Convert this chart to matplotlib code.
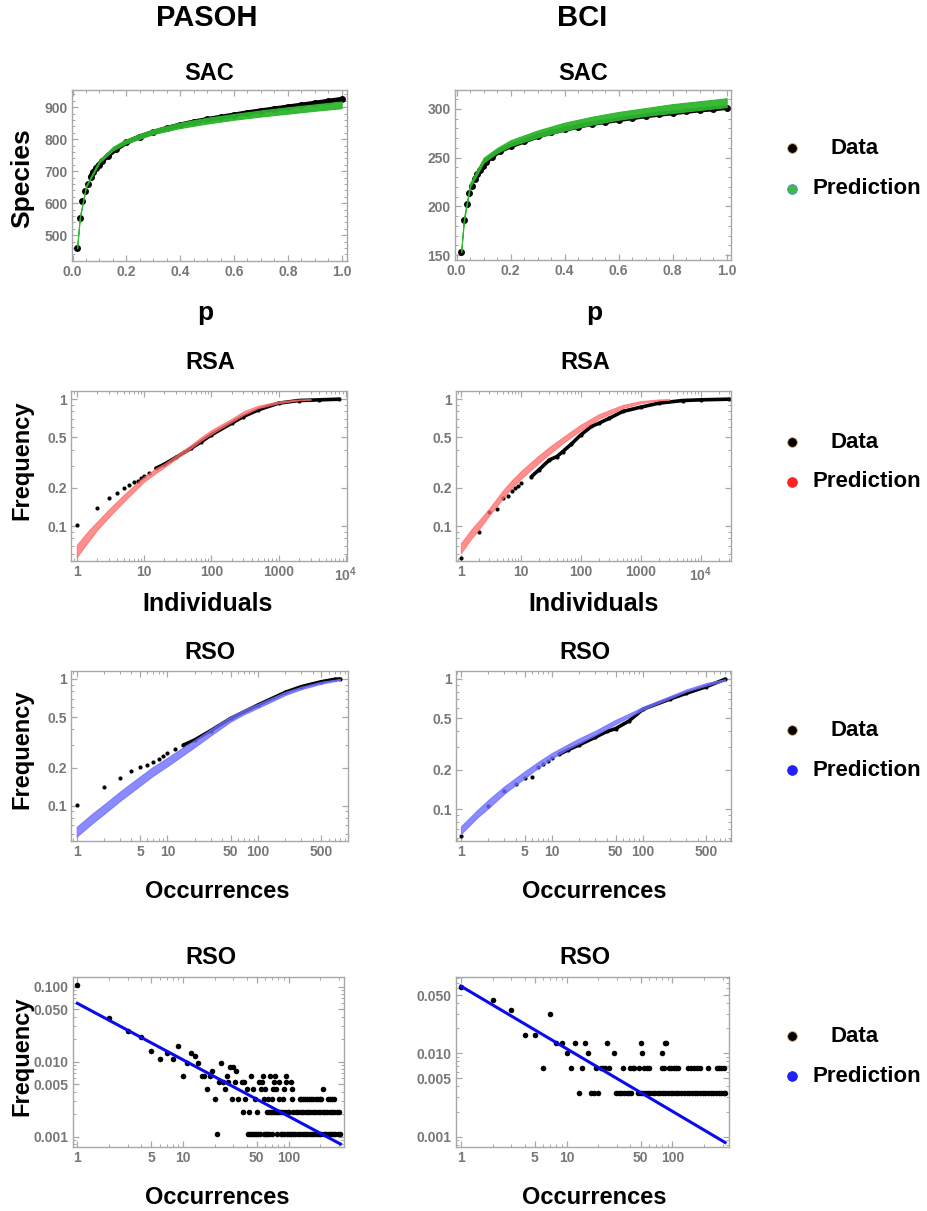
import numpy as np
import matplotlib
matplotlib.use("Agg")
import matplotlib.pyplot as plt
from matplotlib.ticker import (FixedLocator, FixedFormatter, MultipleLocator,
                               FormatStrFormatter, LogLocator, NullFormatter)

# ----------------------------- data ---------------------------------------- #
# species accumulation curves (fraction of plot area sampled -> species)
sac_p = [0.017, 0.027, 0.037, 0.047, 0.057, 0.067, 0.077, 0.087, 0.097, 0.11,
         0.13, 0.16, 0.20, 0.25, 0.30, 0.35, 0.40, 0.45, 0.50, 0.55, 0.60,
         0.65, 0.70, 0.75, 0.80, 0.85, 0.90, 0.95, 1.00]
pasoh_sac = [460, 555, 607, 637, 661, 683, 697, 710, 720, 731, 748, 768, 790,
             808, 822, 834, 845, 854, 862, 869, 876, 883, 889, 895, 901, 907,
             913, 919, 925]
bci_sac = [153, 186, 202, 214, 221, 228, 233, 237, 241, 246, 251, 257, 262,
           267, 272, 276, 279, 282, 285, 287, 289, 291, 293, 294.5, 296, 297.5,
           299, 300, 301.5]

sac_band_p = [0.017, 0.027, 0.05, 0.1, 0.15, 0.2, 0.3, 0.4, 0.5, 0.6, 0.7,
              0.8, 0.9, 1.0]
pasoh_sac_hi = [462, 557, 655, 735, 776, 800, 831, 852, 867, 879, 890, 900,
                909, 918]
pasoh_sac_lo = [459, 553, 650, 727, 765, 787, 816, 835, 849, 861, 871, 880,
                889, 897]
bci_sac_hi = [155, 188, 224, 250, 260, 268, 278, 286, 292, 297, 301, 305,
              308, 311]
bci_sac_lo = [153, 185, 220, 245, 255, 262, 271, 278, 284, 289, 293, 296,
              299, 302]

# cumulative relative species abundance
rsa_pasoh_n = [1, 2, 3, 4, 5, 6, 7, 8, 9, 10, 12, 15, 20, 30, 50, 70, 100,
               200, 300, 500, 1000, 2000, 4000, 8000]
rsa_pasoh_f = [0.102, 0.139, 0.165, 0.183, 0.198, 0.211, 0.221, 0.227, 0.238,
               0.248, 0.26, 0.285, 0.307, 0.348, 0.41, 0.46, 0.523, 0.646,
               0.73, 0.824, 0.93, 0.976, 0.988, 1.0]
rsa_bci_n = [1, 2, 3, 4, 5, 6, 7, 8, 9, 10, 15, 20, 30, 40, 50, 70, 100, 150,
             200, 300, 500, 1000, 2000, 5000, 10000, 30000]
rsa_bci_f = [0.0556, 0.089, 0.128, 0.135, 0.166, 0.172, 0.189, 0.198, 0.207,
             0.217, 0.245, 0.277, 0.332, 0.353, 0.386, 0.444, 0.523, 0.609,
             0.646, 0.708, 0.8, 0.865, 0.93, 0.976, 0.988, 1.0]

rsa_pasoh_band_n = [1, 1.5, 2, 3, 5, 7, 10, 15, 20, 30, 50, 70, 100, 200, 300,
                    500, 1000, 2000, 3000]
rsa_pasoh_hi = [0.071, 0.092, 0.108, 0.135, 0.176, 0.207, 0.245, 0.285, 0.31,
                0.36, 0.436, 0.5, 0.57, 0.7, 0.8, 0.89, 0.96, 0.995, 1.0]
rsa_pasoh_lo = [0.057, 0.076, 0.093, 0.118, 0.156, 0.186, 0.224, 0.262, 0.29,
                0.34, 0.41, 0.47, 0.53, 0.66, 0.75, 0.85, 0.93, 0.98, 0.99]
rsa_bci_band_n = [1, 1.5, 2, 3, 5, 7, 10, 15, 20, 30, 50, 100, 200, 500, 1000,
                  2000, 3000]
rsa_bci_hi = [0.073, 0.094, 0.11, 0.138, 0.19, 0.228, 0.27, 0.32, 0.36, 0.42,
              0.5, 0.63, 0.76, 0.9, 0.965, 0.995, 1.0]
rsa_bci_lo = [0.061, 0.080, 0.094, 0.122, 0.165, 0.2, 0.235, 0.28, 0.315,
              0.37, 0.45, 0.57, 0.70, 0.85, 0.93, 0.98, 0.99]

# cumulative relative species occupancy
rso_pasoh_n = [1, 2, 3, 4, 5, 6, 7, 8, 9, 10, 12, 15, 20, 30, 50, 100, 200,
               300, 500, 700, 800]
rso_pasoh_f = [0.102, 0.141, 0.166, 0.188, 0.201, 0.211, 0.22, 0.232, 0.246,
               0.259, 0.279, 0.301, 0.33, 0.391, 0.489, 0.624, 0.785, 0.87,
               0.952, 0.994, 1.0]
rso_bci_n = [1, 2, 3, 4, 5, 6, 7, 8, 9, 10, 12, 15, 20, 30, 40, 50, 70, 100,
             200, 300, 500, 800]
rso_bci_f = [0.0624, 0.106, 0.139, 0.156, 0.173, 0.178, 0.21, 0.223, 0.236,
             0.245, 0.264, 0.285, 0.312, 0.357, 0.395, 0.415, 0.475, 0.585,
             0.702, 0.776, 0.873, 0.994]

rso_band_n = [1, 1.5, 2, 3, 5, 7, 10, 15, 20, 30, 50, 70, 100, 200, 300, 500,
              800]
rso_pasoh_hi = [0.068, 0.087, 0.102, 0.129, 0.170, 0.203, 0.239, 0.289, 0.33,
                0.402, 0.508, 0.573, 0.638, 0.792, 0.869, 0.952, 1.0]
rso_pasoh_lo = [0.057, 0.073, 0.086, 0.109, 0.144, 0.173, 0.205, 0.251, 0.29,
                0.358, 0.462, 0.527, 0.592, 0.748, 0.831, 0.918, 0.98]
rso_bci_hi = [0.074, 0.098, 0.118, 0.15, 0.195, 0.23, 0.27, 0.315, 0.35,
              0.40, 0.485, 0.54, 0.61, 0.74, 0.83, 0.93, 0.995]
rso_bci_lo = [0.0646, 0.086, 0.102, 0.132, 0.173, 0.207, 0.246, 0.29, 0.32,
              0.37, 0.45, 0.51, 0.58, 0.71, 0.80, 0.89, 0.97]

# species per occurrence value (non-cumulative RSO)
pasoh_species = 930
pasoh_head_occ = list(range(1, 21))
pasoh_head_cnt = [98, 36, 24, 20, 13, 10, 12, 10, 15, 6, 9, 12, 11, 9, 6, 6,
                  4, 6, 7, 3]
pasoh_occ_1 = [21, 41, 43, 45, 47, 49, 51, 54, 58, 61, 63, 65, 69, 77, 84, 87,
               91, 96, 100, 105, 110, 116, 122, 129, 136, 143, 151, 159, 167,
               176, 185, 195, 205, 216, 227, 239, 251, 264, 278, 292, 306]
pasoh_occ_2 = [37, 42, 50, 62, 66, 68, 72, 75, 78, 80, 83, 86, 92, 98, 102,
               111, 117, 123, 130, 137, 146, 153, 161, 170, 179, 190, 200, 211,
               222, 233, 245, 259, 272, 286, 300]
pasoh_occ_3 = [29, 33, 39, 48, 59, 64, 70, 82, 89, 107, 127, 132, 138, 144,
               150, 157, 164, 172, 180, 188, 197, 204, 237, 247, 258, 270]
pasoh_occ_4 = [25, 40, 46, 55, 60, 71, 76, 90, 108, 212]
pasoh_occ_5 = [22, 24, 27, 31, 36, 38, 52, 56, 73, 81, 95, 106]
pasoh_occ_6 = [26, 44, 57, 67, 74, 94]
pasoh_occ_7 = [32]
pasoh_occ_8 = [28, 30]
pasoh_occ_9 = [23]

bci_species = 301
bci_head_occ = list(range(1, 18))
bci_head_cnt = [19, 13, 10, 5, 5, 2, 9, 4, 4, 3, 2, 4, 1, 2, 4, 3, 1]
bci_occ_1 = [18, 20, 29, 31, 33, 35, 37, 39, 41, 47, 50, 53, 56, 59, 62, 65,
             69, 73, 77, 81, 86, 91, 96, 102, 108, 114, 121, 128, 136, 144,
             153, 162, 172, 182, 193, 205, 217, 230, 244, 258, 273, 289, 306,
             315]
bci_occ_2 = [19, 21, 22, 23, 25, 34, 40, 42, 43, 48, 54, 57, 60, 80, 83, 92,
             97, 103, 109, 113, 141, 150, 160, 170, 183, 218, 262, 275, 290,
             305]
bci_occ_3 = [28, 52, 79]
bci_occ_4 = [24, 51, 85, 87]

# fitted power laws (end points)
pasoh_fit_x = [1, 310]
pasoh_fit_y = [0.060, 0.00080]
bci_fit_x = [1, 315]
bci_fit_y = [0.064, 0.00085]

# ----------------------------- style --------------------------------------- #
plt.rcParams['font.family'] = ['Liberation Sans', 'DejaVu Sans']
plt.rcParams['font.weight'] = 'bold'
plt.rcParams['mathtext.default'] = 'regular'

W, H = 927, 1211
TICK_GRAY = '#777777'
FRAME_GRAY = '#a8a8a8'
GREEN = '#2db52d'
RED = '#ff6a6a'
BLUE = '#6e6eff'

fig = plt.figure(figsize=(W / 100, H / 100), dpi=100)


def px_axes(left, top, right, bottom):
    return fig.add_axes([left / W, 1 - bottom / H, (right - left) / W,
                         (bottom - top) / H])


def px_text(x, y, s, size, ha='center', rotation=0):
    fig.text(x / W, 1 - y / H, s, ha=ha, va='center', fontsize=size,
             fontweight='bold', rotation=rotation)


def frame(ax):
    for sp in ax.spines.values():
        sp.set_color(FRAME_GRAY)
        sp.set_linewidth(1.0)
    ax.tick_params(which='both', direction='in', top=True, right=True,
                   color=FRAME_GRAY, labelcolor=TICK_GRAY, labelsize=10,
                   pad=3)
    ax.tick_params(which='major', length=4, width=0.9)
    ax.tick_params(which='minor', length=2, width=0.7)


def log_ticks(ax, axis, ticks, labels):
    a = ax.xaxis if axis == 'x' else ax.yaxis
    a.set_major_locator(FixedLocator(ticks))
    a.set_major_formatter(FixedFormatter(labels))
    a.set_minor_locator(LogLocator(base=10, subs=np.arange(2, 10)))
    a.set_minor_formatter(NullFormatter())


def data_curve(ax, x, y, dense_from, ms, lw):
    x = np.asarray(x, float)
    y = np.asarray(y, float)
    ax.plot(x, y, 'o', color='k', ms=ms, mec='none', zorder=2)
    m = x >= dense_from
    ax.plot(x[m], y[m], '-', color='k', lw=lw, solid_capstyle='round',
            zorder=2)


def band(ax, x, lo, hi, color, alpha):
    ax.fill_between(x, lo, hi, color=color, alpha=alpha, lw=0.8, zorder=3)


def legend(y_data, y_pred, color, edge):
    for yy, fc, ec in [(y_data, 'k', '#e8a860'), (y_pred, color, edge)]:
        fig.lines.append(plt.Line2D([792 / W], [1 - yy / H], marker='o',
                                    ms=7, mfc=fc, mec=ec, mew=0.6,
                                    transform=fig.transFigure))
    px_text(831, y_data, 'Data', 16, ha='left')
    px_text(813, y_pred, 'Prediction', 16, ha='left')


# ----------------------------- headers ------------------------------------- #
px_text(207, 18, 'PASOH', 21)
px_text(582, 18, 'BCI', 21)

# ----------------------------- row 1: SAC ---------------------------------- #
for left, right, bottom, s, lo, hi, ylim, ymaj, ymin, xlim in [
        (72, 347, 261, pasoh_sac, pasoh_sac_lo, pasoh_sac_hi, (419, 954),
         100, 20, (-0.002, 1.02)),
        (455, 731, 260, bci_sac, bci_sac_lo, bci_sac_hi, (145, 319.5),
         50, 10, (-0.006, 1.016))]:
    ax = px_axes(left, 90, right, bottom)
    data_curve(ax, sac_p, s, 0.06, 5, 3.5)
    band(ax, sac_band_p, lo, hi, GREEN, 0.95)
    ax.set_xlim(*xlim)
    ax.set_ylim(*ylim)
    ax.xaxis.set_major_locator(MultipleLocator(0.2))
    ax.xaxis.set_minor_locator(MultipleLocator(0.05))
    ax.xaxis.set_major_formatter(FormatStrFormatter('%.1f'))
    ax.yaxis.set_major_locator(MultipleLocator(ymaj))
    ax.yaxis.set_minor_locator(MultipleLocator(ymin))
    frame(ax)

px_text(209, 73, 'SAC', 17)
px_text(583, 73, 'SAC', 17)
px_text(22, 178, 'Species', 19, rotation=90)
px_text(205, 313, 'p', 19)
px_text(594, 313, 'p', 19)
legend(148, 189, '#3dbb45', '#5a7fd0')

# ----------------------------- row 2: RSA ---------------------------------- #
for left, right, n, f, bn, lo, hi, xlim, dense in [
        (71, 347, rsa_pasoh_n, rsa_pasoh_f, rsa_pasoh_band_n, rsa_pasoh_lo,
         rsa_pasoh_hi, (0.82, 1.04e4), 15),
        (456, 731, rsa_bci_n, rsa_bci_f, rsa_bci_band_n, rsa_bci_lo,
         rsa_bci_hi, (0.83, 3.2e4), 12)]:
    ax = px_axes(left, 391, right, 561)
    ax.set_xscale('log')
    ax.set_yscale('log')
    data_curve(ax, n, f, dense, 3, 2.6)
    band(ax, bn, lo, hi, RED, 0.75)
    ax.set_xlim(*xlim)
    ax.set_ylim(0.053, 1.16)
    log_ticks(ax, 'x', [1, 10, 100, 1000, 10000],
              ['1', '10', '100', '1000', '$10^4$'])
    log_ticks(ax, 'y', [0.1, 0.2, 0.5, 1], ['0.1', '0.2', '0.5', '1'])
    frame(ax)

px_text(210, 363, 'RSA', 17)
px_text(585, 363, 'RSA', 17)
px_text(22, 460, 'Frequency', 17, rotation=90)
px_text(208, 604, 'Individuals', 18)
px_text(594, 604, 'Individuals', 18)
legend(442, 482, '#ff2020', '#ff2020')

# ----------------------------- row 3: RSO ---------------------------------- #
for left, right, n, f, lo, hi, xlim, ylim, dense in [
        (71, 348, rso_pasoh_n, rso_pasoh_f, rso_pasoh_lo, rso_pasoh_hi,
         (0.865, 980), (0.0526, 1.156), 15),
        (456, 731, rso_bci_n, rso_bci_f, rso_bci_lo, rso_bci_hi,
         (0.88, 930), (0.057, 1.15), 12)]:
    ax = px_axes(left, 671, right, 841)
    ax.set_xscale('log')
    ax.set_yscale('log')
    data_curve(ax, n, f, dense, 3, 2.6)
    band(ax, rso_band_n, lo, hi, BLUE, 0.8)
    ax.set_xlim(*xlim)
    ax.set_ylim(*ylim)
    log_ticks(ax, 'x', [1, 5, 10, 50, 100, 500],
              ['1', '5', '10', '50', '100', '500'])
    log_ticks(ax, 'y', [0.1, 0.2, 0.5, 1], ['0.1', '0.2', '0.5', '1'])
    frame(ax)

px_text(210, 653, 'RSO', 17)
px_text(585, 653, 'RSO', 17)
px_text(22, 749, 'Frequency', 17, rotation=90)
px_text(217, 892, 'Occurrences', 17)
px_text(594, 892, 'Occurrences', 17)
legend(730, 770, '#2020ff', '#2020ff')

# ----------------------------- row 4: RSO (power law) ---------------------- #
pasoh_occ = pasoh_head_occ[:]
pasoh_cnt = pasoh_head_cnt[:]
for c, occ in enumerate([pasoh_occ_1, pasoh_occ_2, pasoh_occ_3, pasoh_occ_4,
                         pasoh_occ_5, pasoh_occ_6, pasoh_occ_7, pasoh_occ_8,
                         pasoh_occ_9], start=1):
    pasoh_occ += occ
    pasoh_cnt += [c] * len(occ)

bci_occ = bci_head_occ[:]
bci_cnt = bci_head_cnt[:]
for c, occ in enumerate([bci_occ_1, bci_occ_2, bci_occ_3, bci_occ_4],
                        start=1):
    bci_occ += occ
    bci_cnt += [c] * len(occ)

for left, right, occ, cnt, total, fx, fy, xlim, ylim, yt in [
        (73, 344, pasoh_occ, pasoh_cnt, pasoh_species, pasoh_fit_x,
         pasoh_fit_y, (0.91, 335), (0.00073, 0.1345),
         [0.001, 0.005, 0.01, 0.05, 0.1]),
        (456, 729, bci_occ, bci_cnt, bci_species, bci_fit_x, bci_fit_y,
         (0.9, 343), (0.00075, 0.0824), [0.001, 0.005, 0.01, 0.05])]:
    ax = px_axes(left, 977, right, 1147)
    ax.set_xscale('log')
    ax.set_yscale('log')
    ax.plot(occ, np.asarray(cnt) / total, 'o', color='k', ms=4, mec='none',
            zorder=2)
    ax.plot(fx, fy, '-', color='#0a0aee', lw=2.2, zorder=3)
    ax.set_xlim(*xlim)
    ax.set_ylim(*ylim)
    log_ticks(ax, 'x', [1, 5, 10, 50, 100], ['1', '5', '10', '50', '100'])
    log_ticks(ax, 'y', yt, ['%.3f' % v for v in yt])
    frame(ax)

px_text(211, 958, 'RSO', 17)
px_text(585, 958, 'RSO', 17)
px_text(22, 1056, 'Frequency', 17, rotation=90)
px_text(217, 1197, 'Occurrences', 17)
px_text(594, 1197, 'Occurrences', 17)
legend(1036, 1076, '#2020ff', '#2020ff')

fig.savefig('out.png', dpi=100)
